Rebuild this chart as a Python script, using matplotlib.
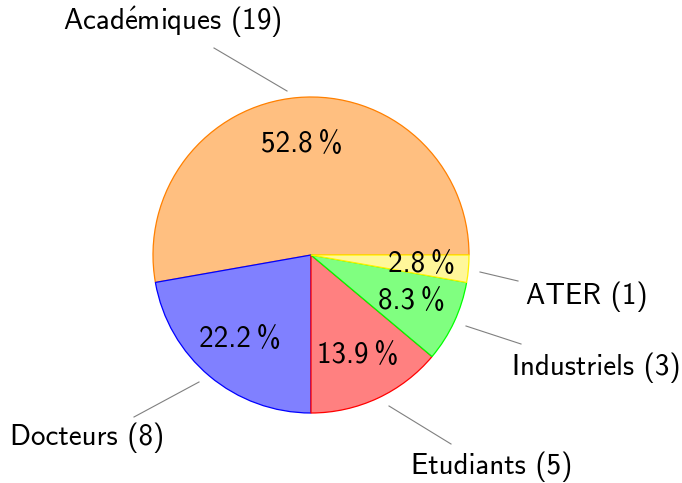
import os
import numpy as np
import matplotlib
matplotlib.use("Agg")
import matplotlib.pyplot as plt
from matplotlib import font_manager

# -----------------------------
# Data
# -----------------------------
labels = ["ATER", "Industriels", "Etudiants", "Docteurs", r"Acad$\mathsf{\acute{e}}$miques"]
counts = [1, 3, 5, 8, 19]
fills = ["#FFF79A", "#80FF80", "#FF8080", "#8080FF", "#FFBF80"]
edges = ["#FFF200", "#00FF00", "#FF0000", "#0000FF", "#FF8000"]

# label text positions and leader lines (pixels)
label_pos = [(587, 297), (596, 368), (492, 467), (87, 438), (172, 22)]
line_start = [(480, 272), (466, 326), (389, 406), (199, 382), (287, 91)]
line_end = [(518, 281), (521, 344), (451, 444), (134, 417), (214, 48)]

# -----------------------------
# Font: Computer Modern Sans look-alike
# -----------------------------
cmss = os.path.join(matplotlib.get_data_path(), "fonts", "ttf", "cmss10.ttf")
font_manager.fontManager.addfont(cmss)
plt.rcParams["font.family"] = ["cmss10", "DejaVu Sans"]
plt.rcParams["mathtext.fontset"] = "cm"

W, H = 682, 483
fig = plt.figure(figsize=(W / 100, H / 100), dpi=100)
ax = fig.add_axes([0, 0, 1, 1])

cx, cy, R = 311, 255, 158
fs = 20.9

wedges, _, autotexts = ax.pie(
    counts, center=(cx, cy), radius=R, colors=fills, startangle=0,
    counterclock=True, autopct=lambda p: f"{p:.1f}\u2009%", pctdistance=0.7,
    wedgeprops=dict(linewidth=0.9), textprops=dict(fontsize=fs),
    frame=True,
)
# later slices drawn on top of earlier ones (Académiques first)
for k, (w, ec) in enumerate(zip(wedges, edges)):
    w.set_edgecolor(ec)
    w.set_zorder(2 + (len(wedges) - k) * 0.1)
for t in autotexts:
    t.set_zorder(5)
ax.set_xlim(0, W)
ax.set_ylim(H, 0)
ax.set_aspect("equal")
ax.axis("off")

# -----------------------------
# Outer labels with leader lines
# -----------------------------
for i, (lab, n) in enumerate(zip(labels, counts)):
    (sx, sy), (ex, ey) = line_start[i], line_end[i]
    ax.plot([sx, ex], [sy, ey], color="gray", linewidth=0.8)
    tx, ty = label_pos[i]
    ax.text(tx, ty, f"{lab} ({n})", fontsize=fs, ha="center", va="center")

fig.savefig("out.png", dpi=100)
